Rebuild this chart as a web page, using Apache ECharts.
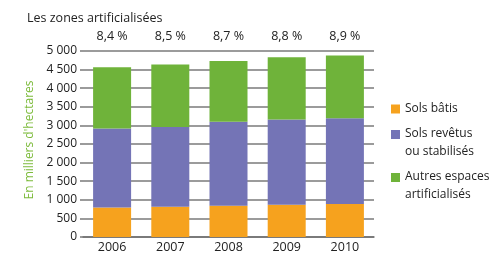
<!DOCTYPE html>
<html><head><meta charset="utf-8">
<script src="https://cdn.jsdelivr.net/npm/echarts@6/dist/echarts.min.js"></script>
<style>html,body{margin:0;padding:0;background:#fff}#c{width:498px;height:255px}</style>
</head><body><div id="c"></div>
<script>
var years = ['2006','2007','2008','2009','2010'];
var pctLabels = ['8,4 %','8,5 %','8,7 %','8,8 %','8,9 %'];
var solsBatis = [790, 810, 840, 870, 890];
var solsRevetus = [2130, 2150, 2260, 2290, 2300];
var autresEspaces = [1640, 1680, 1630, 1670, 1690];
var seriesNames = ['Sols bâtis', 'Sols revêtus\nou stabilisés', 'Autres espaces\nartificialisés'];
var yTicks = {min: 0, max: 5000, interval: 500};

var FONT = "'Open Sans',sans-serif";
var sq = 'path://M0,0h10v10h-10z';
var sqTop = 'path://M0,0h10v10h-10zM5,28.8h0.05v0.05h-0.05z';
var chart = echarts.init(document.getElementById('c'), null, {renderer: 'canvas'});
chart.setOption({
  animation: false,
  textStyle: {fontFamily: FONT},
  title: {text: 'Les zones artificialisées', left: 22, top: 7,
    textStyle: {fontFamily: FONT, fontSize: 12.5, fontWeight: 'normal', color: '#222'}},
  grid: {left: 83, right: 124, top: 51, bottom: 18},
  legend: {
    orient: 'vertical', left: 386, top: 95, itemWidth: 9, itemHeight: 26, itemGap: 7,
    symbolKeepAspect: true,
    textStyle: {fontFamily: FONT, fontSize: 12, color: '#222', lineHeight: 18},
    data: [
      {name: seriesNames[0], icon: sq},
      {name: seriesNames[1], icon: sqTop},
      {name: seriesNames[2], icon: sqTop}
    ]
  },
  xAxis: [{
    type: 'category', data: years, position: 'bottom',
    axisLine: {show: true, lineStyle: {color: '#707070', width: 1.5}},
    axisTick: {show: false},
    axisLabel: {fontFamily: FONT, fontSize: 12.5, color: '#222', margin: 4}
  }, {
    type: 'category', data: pctLabels, position: 'top',
    axisLine: {show: false}, axisTick: {show: false},
    axisLabel: {fontFamily: FONT, fontSize: 12.5, color: '#222', margin: 8}
  }],
  yAxis: {
    type: 'value', min: yTicks.min, max: yTicks.max, interval: yTicks.interval,
    name: "En milliers d'hectares", nameLocation: 'middle', nameGap: 42, nameRotate: 90,
    nameTextStyle: {fontFamily: FONT, fontSize: 12, color: '#7dbb3c', padding: [0, 0, 0, 8]},
    axisLine: {show: false},
    axisTick: {show: true, length: 3, lineStyle: {color: '#7a7a7a', width: 1.5}},
    splitLine: {show: true, lineStyle: {color: '#7a7a7a', width: 1.5}},
    axisLabel: {fontFamily: FONT, fontSize: 12, color: '#222', margin: 6,
      formatter: function (v) { return String(v).replace(/\B(?=(\d{3})+(?!\d))/g, ' '); }}
  },
  series: [
    {name: seriesNames[0], type: 'bar', stack: 't', data: solsBatis, barWidth: 38,
      itemStyle: {color: '#f6a21e'}},
    {name: seriesNames[1], type: 'bar', stack: 't', data: solsRevetus, barWidth: 38,
      itemStyle: {color: '#7474b6'}},
    {name: seriesNames[2], type: 'bar', stack: 't', data: autresEspaces, barWidth: 38,
      itemStyle: {color: '#6fb33a'}}
  ]
});
</script></body></html>
